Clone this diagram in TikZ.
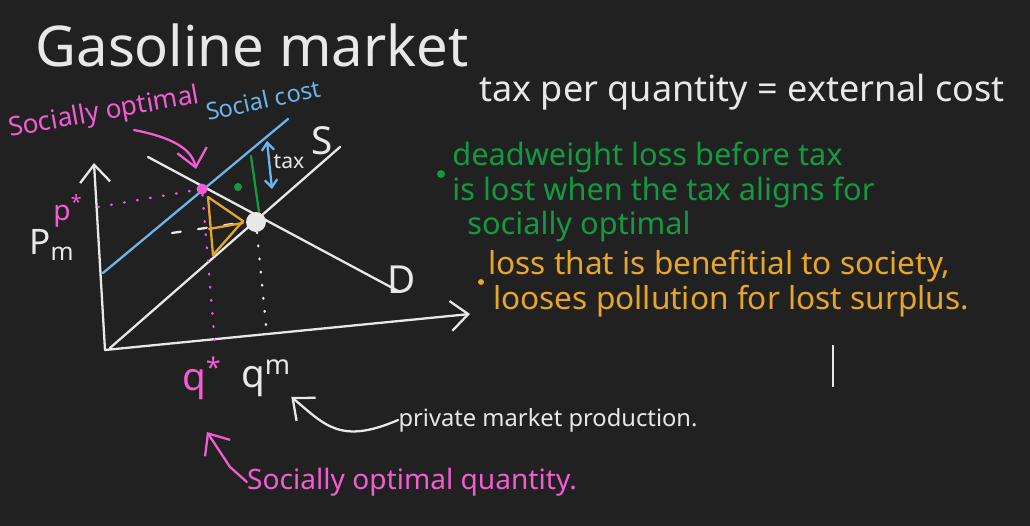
\documentclass[tikz,border=0pt]{standalone}
\usepackage{fontspec}
\setmainfont{Noto Sans}
\usetikzlibrary{arrows.meta, positioning}
\definecolor{pizarra}{HTML}{212121}
\definecolor{tiza}{HTML}{E8E8E8}
\definecolor{rosa}{HTML}{F25CD4}
\definecolor{celeste}{HTML}{6BB5EF}
\definecolor{verde}{HTML}{129A40}
\definecolor{dorado}{HTML}{E7A52A}
\tikzset{
	x=0.02cm, y=-0.02cm, % un pixel de la pizarra
	trazo/.style={line width=1.3pt, line cap=round, line join=round}, % Linea a mano
	puntos/.style={trazo, dash pattern=on 0.5pt off 7pt}, % Linea de puntos
	punta/.style={-{Straight Barb[length=3.5mm, width=6mm, line width=1.3pt]}}, % Flecha abierta
	texto/.style={inner sep=0pt} % Texto sin margen
}

\begin{document}
\begin{tikzpicture}
	\fill[pizarra] (0,0) rectangle (1030,526);
	\useasboundingbox (0,0) rectangle (1030,526);
	% titulos
	\node[texto, tiza, font=\fontsize{32}{32}\selectfont] (titulo) at (252,45) {Gasoline market};
	\node[texto, tiza, font=\fontsize{20.5}{20.5}\selectfont] (impuesto) at (742,92) {tax per quantity = external cost};
	% ejes
	\coordinate (origen) at (105,350);
	\coordinate (ytope) at (94,163);
	\coordinate (xtope) at (470,314);
	\draw[trazo, tiza, punta] (origen) -- (ytope);
	\draw[trazo, tiza, punta] (origen) -- (xtope);
	\node[texto, tiza, font=\fontsize{20}{20}\selectfont] (pm) at (52,245) {P\textsubscript{m}};
	% curvas
	\coordinate (s0) at (110,348);  \coordinate (s1) at (340,147);
	\coordinate (d0) at (148,157);  \coordinate (d1) at (400,292);
	\coordinate (c0) at (103,273);  \coordinate (c1) at (288,119);
	\draw[trazo, tiza] (s0) -- (s1);
	\draw[trazo, tiza] (d0) -- (d1);
	\draw[trazo, celeste] (c0) -- (c1);
	\node[texto, tiza, font=\fontsize{22}{22}\selectfont] (S) at (322,141) {S};
	\node[texto, tiza, font=\fontsize{22}{22}\selectfont] (D) at (402,280) {D};
	\node[texto, celeste, rotate=12, font=\fontsize{13.5}{13.5}\selectfont] (costo) at (263,100) {Social cost};
	% impuesto
	\coordinate (t0) at (267,141);  \coordinate (t1) at (272,189);
	\draw[trazo, celeste, <->, >={Straight Barb[length=1.5mm, width=2.5mm]}] (t0) -- (t1);
	\node[texto, tiza, font=\fontsize{12}{12}\selectfont] (tax) at (289,162) {tax};
	\coordinate (g0) at (251,156);  \coordinate (g1) at (259,212);
	\draw[trazo, verde] (g0) -- (g1);
	\fill[verde] (238,187) circle (4);
	% equilibrios
	\node[circle, fill=tiza, minimum width=0.4cm, minimum height=0.3cm, inner sep=0pt] (qm punto) at (256,222) {};
	\node[circle, fill=rosa, inner sep=0pt, minimum size=0.22cm] (optimo) at (202,189) {};
	\coordinate (py) at (98,207);
	\draw[puntos, rosa] (py) -- (optimo);
	\coordinate (qx) at (215,345);
	\draw[puntos, rosa] (optimo) -- (qx);
	\coordinate (mx) at (267,336);
	\draw[puntos, tiza] (qm punto) -- (mx);
	\coordinate (my) at (172,233);
	\draw[trazo, tiza, dash pattern=on 5pt off 10pt] (my) -- (qm punto.west);
	% triangulo de perdida
	\draw[trazo, dorado] (208,197) -- (243,221) -- (213,255) -- cycle;
	\draw[trazo, dorado] (209,229) -- (243,223);
	% etiquetas rosas
	\node[texto, rosa, font=\fontsize{16}{16}\selectfont] (pstar) at (68,211) {p\textsuperscript{*}};
	\node[texto, rosa, font=\fontsize{22}{22}\selectfont] (qstar) at (202,378) {q\textsuperscript{*}};
	\node[texto, tiza, font=\fontsize{22}{22}\selectfont] (qm) at (266,378) {q\textsuperscript{m}};
	\node[texto, rosa, rotate=10, font=\fontsize{15}{15}\selectfont] (soc) at (104,113) {Socially optimal};
	\coordinate (flecha opt) at (196,169);
	\draw[trazo, rosa, punta] (134,130) .. controls (175,138) and (192,150) .. (flecha opt);
	% notas
	\fill[verde] (441,174) circle (4);
	\node[texto, verde, anchor=north west, align=left, font=\fontsize{17.5}{19.5}\selectfont] (nota1) at (452,142)
		{deadweight loss before tax\\is lost when the tax aligns for\\\hspace{0.3cm}socially optimal};
	\fill[dorado] (481,282) circle (3);
	\node[texto, dorado, anchor=north west, align=left, font=\fontsize{18}{20}\selectfont] (nota2) at (488,250)
		{loss that is benefitial to society,\\\hspace{0.1cm}looses pollution for lost surplus.};
	\node[texto, tiza, font=\fontsize{13.5}{13.5}\selectfont] (privada) at (548,420) {private market production.};
	\node[texto, rosa, font=\fontsize{16}{16}\selectfont] (socq) at (412,482) {Socially optimal quantity.};
	\draw[trazo, tiza, punta] (privada.west) .. controls (340,445) and (325,425) .. (qm.south east);
	\coordinate (flecha q) at (207,432);
	\draw[trazo, rosa, punta] (socq.west) -- (230,467) -- (flecha q);
	% cursor
	\coordinate (cur0) at (833,345);  \coordinate (cur1) at (833,387);
	\draw[line width=1pt, tiza] (cur0) -- (cur1);
\end{tikzpicture}
\end{document}
